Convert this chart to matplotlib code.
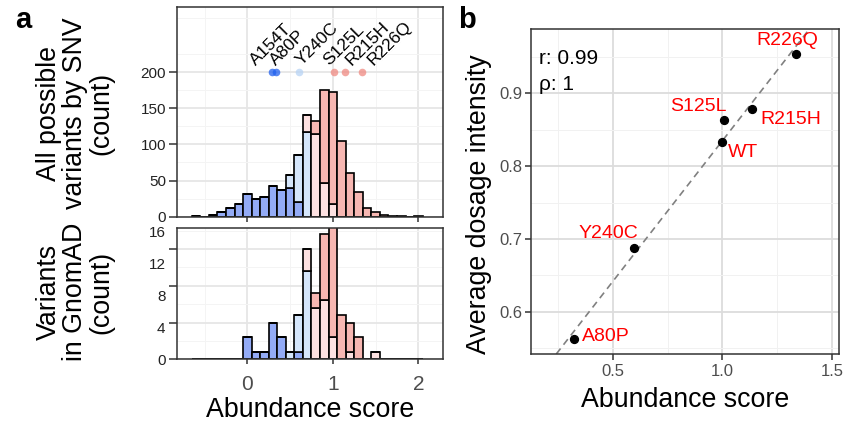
import matplotlib
matplotlib.use('Agg')
import matplotlib.pyplot as plt
import numpy as np

plt.rcParams['font.family'] = ['Liberation Sans', 'DejaVu Sans']
plt.rcParams['lines.scale_dashes'] = False

# histogram bins: width 0.1, centred on multiples of 0.1 (-0.6 .. 2.0)
bin_width = 0.1
bin_centers = np.round(np.arange(-6, 21) * bin_width, 2)

# all possible SNVs, count per bin, split by abundance class
snv_low = [1, 0, 3, 7, 12, 17, 32, 24, 27, 42, 37, 40, 20, 0, 0, 0, 0, 0, 0, 0, 0, 0, 0, 0, 0, 0, 0]
snv_mid = [0, 0, 0, 0, 0, 0, 0, 0, 0, 0, 0, 18, 66, 117, 0, 0, 0, 0, 0, 0, 0, 0, 0, 0, 0, 0, 0]
snv_wt = [0, 0, 0, 0, 0, 0, 0, 0, 0, 0, 0, 0, 0, 23, 114, 47, 17, 0, 0, 0, 0, 0, 0, 0, 0, 0, 0]
snv_high = [0, 0, 0, 0, 0, 0, 0, 0, 0, 0, 0, 0, 0, 0, 19, 128, 155, 105, 60, 34, 12, 7, 3, 1, 1, 0, 1]

# variants seen in gnomAD
gnomad_low = [0, 0, 0, 0, 0, 0, 3, 1, 1, 5, 3, 0, 1, 0, 0, 0, 0, 0, 0, 0, 0, 0, 0, 0, 0, 0, 0]
gnomad_mid = [0, 0, 0, 0, 0, 0, 0, 0, 0, 0, 0, 1, 5, 12, 0, 0, 0, 0, 0, 0, 0, 0, 0, 0, 0, 0, 0]
gnomad_wt = [0, 0, 0, 0, 0, 0, 0, 0, 0, 0, 0, 0, 0, 3, 7, 8, 3, 0, 1, 0, 0, 1, 0, 0, 0, 0, 0]
gnomad_high = [0, 0, 0, 0, 0, 0, 0, 0, 0, 0, 0, 0, 0, 0, 2, 9, 15, 6, 4, 3, 0, 0, 0, 0, 0, 0, 0]

# highlighted variants on top panel
var_names = ['A154T', 'A80P', 'Y240C', 'S125L', 'R215H', 'R226Q']
var_score = [0.29, 0.33, 0.60, 1.01, 1.14, 1.34]
var_class = ['low', 'low', 'mid', 'high', 'high', 'high']
var_label_dx = [-0.19, 0.0, 0.04, -0.05, 0.08, 0.14]

# panel b
dose_names = ['R226Q', 'S125L', 'R215H', 'WT', 'Y240C', 'A80P']
dose_score = [1.336, 1.006, 1.135, 1.0, 0.599, 0.325]
dose_int = [0.954, 0.863, 0.878, 0.833, 0.688, 0.562]
dose_offsets = [(-6.5, 9.8), (-18, 10), (28, -7), (15, -7.4), (-19, 9.9), (22.5, 1.9)]

class_colors = {'low': '#93abf6', 'mid': '#d5e6fb', 'wt': '#fde1e1', 'high': '#f7b7b2'}
dot_colors = {'low': '#2060ee', 'mid': '#b7d3f5', 'high': '#f08a82'}
frame = '#333333'
title_size = 19.3


def style(ax, major='#e6e6e6', minor='#f4f4f4'):
    for s in ax.spines.values():
        s.set_color(frame)
        s.set_linewidth(1.1)
    ax.set_axisbelow(True)
    ax.grid(which='major', color=major, lw=1.3)
    ax.grid(which='minor', color=minor, lw=0.7)
    ax.tick_params(which='major', width=1.1, color=frame)
    ax.tick_params(which='minor', length=0)


def stacked_hist(ax, layers):
    bottom = np.zeros(len(bin_centers))
    for vals, key in zip(layers, ['low', 'mid', 'wt', 'high']):
        vals = np.array(vals, dtype=float)
        ax.bar(bin_centers, vals, width=bin_width, bottom=bottom, color=class_colors[key],
               edgecolor='black', linewidth=1.2, zorder=2)
        bottom += vals


fig = plt.figure(figsize=(8.44, 4.23), dpi=100)
ax1 = fig.add_axes([0.2101, 0.4877, 0.3145, 0.4957])
ax2 = fig.add_axes([0.2101, 0.1506, 0.3145, 0.3111])
ax3 = fig.add_axes([0.6288, 0.1631, 0.3656, 0.7676])

# top histogram
style(ax1)
stacked_hist(ax1, [snv_low, snv_mid, snv_wt, snv_high])
for name, x, c, dx in zip(var_names, var_score, var_class, var_label_dx):
    ax1.scatter(x, 200, s=30, color=dot_colors[c], alpha=0.75, lw=0, zorder=3)
    ax1.text(x + dx, 209, name, rotation=45, rotation_mode='anchor', ha='left', va='baseline',
             fontsize=12.5, zorder=4)
ax1.set_xlim(-0.819, 2.285)
ax1.set_ylim(0, 290)
ax1.set_xticks([0, 1, 2])
ax1.set_xticks([-0.5, 0.5, 1.5], minor=True)
ax1.set_yticks([0, 50, 100, 150, 200])
ax1.set_yticks(np.arange(25, 290, 50), minor=True)
ax1.tick_params(axis='x', labelbottom=False, length=3.5)
ax1.tick_params(axis='y', length=6, pad=2, labelsize=11, labelcolor='#222222')

# bottom histogram
style(ax2)
stacked_hist(ax2, [gnomad_low, gnomad_mid, gnomad_wt, gnomad_high])
ax2.set_xlim(-0.819, 2.285)
ax2.set_ylim(0, 17.9)
ax2.set_xticks([0, 1, 2])
ax2.set_xticks([-0.5, 0.5, 1.5], minor=True)
ax2.set_yticks([0, 5, 10, 15])
ax2.set_yticks([2.5, 7.5, 12.5, 17.5], minor=True)
ax2.tick_params(axis='y', length=6, labelleft=False)
ax2.tick_params(axis='x', length=3.5, pad=8, labelsize=15, labelcolor='#4d4d4d')
sec = ax2.secondary_yaxis('left', functions=(lambda y: y / 1.09, lambda y: y * 1.09))
sec.set_yticks([0, 4, 8, 12, 16])
sec.tick_params(length=0, pad=8.5, labelsize=11, labelcolor='#222222')
sec.spines['left'].set_visible(False)

fig.text(75 / 844, 1 - 113 / 423, 'All possible\nvariants by SNV\n(count)', rotation=90,
         ha='center', va='center', multialignment='center', fontsize=title_size, linespacing=1.0)
fig.text(75 / 844, 1 - 292 / 423, 'Variants\nin GnomAD\n(count)', rotation=90,
         ha='center', va='center', multialignment='center', fontsize=title_size, linespacing=1.0)
fig.text(310 / 844, 1 - 416.7 / 423, 'Abundance score', ha='center', va='baseline',
         fontsize=title_size)

# panel b scatter
style(ax3, major='#dcdcdc', minor='#f1f1f1')
slope, icpt = np.polyfit(dose_score, dose_int, 1)
ax3.axline((0, icpt), slope=slope, color='#808080', ls='--', dashes=(5, 3.5), lw=1.2, zorder=2)
ax3.scatter(dose_score, dose_int, s=32, color='black', zorder=3)
for name, x, y, off in zip(dose_names, dose_score, dose_int, dose_offsets):
    ax3.annotate(name, (x, y), xytext=off, textcoords='offset points', ha='center', va='center',
                 color='red', fontsize=14, zorder=4)
r = np.corrcoef(dose_score, dose_int)[0, 1]
rx = np.argsort(np.argsort(dose_score))
ry = np.argsort(np.argsort(dose_int))
rho = np.corrcoef(rx, ry)[0, 1]
ax3.text(0.027, 0.94, f'r: {r:.2f}\nρ: {rho:.2g}', transform=ax3.transAxes, ha='left', va='top',
         fontsize=15, linespacing=1.45)
ax3.set_xlim(0.126, 1.533)
ax3.set_ylim(0.542, 0.988)
ax3.set_xticks([0.5, 1.0, 1.5])
ax3.set_xticklabels(['0.5', '1.0', '1.5'])
ax3.set_xticks([0.25, 0.75, 1.25], minor=True)
ax3.set_yticks([0.6, 0.7, 0.8, 0.9])
ax3.set_yticks([0.55, 0.65, 0.75, 0.85, 0.95], minor=True)
ax3.tick_params(axis='both', length=4, labelsize=12, labelcolor='#4d4d4d')
ax3.tick_params(axis='x', pad=3)
ax3.tick_params(axis='y', pad=2)
fig.text(685 / 844, 1 - 406.7 / 423, 'Abundance score', ha='center', va='baseline',
         fontsize=title_size)
fig.text(479 / 844, 1 - 204 / 423, 'Average dosage intensity', rotation=90, ha='center',
         va='center', fontsize=title_size)

fig.text(15 / 844, 1 - 28 / 423, 'a', fontsize=21, fontweight='bold', va='baseline')
fig.text(458 / 844, 1 - 28 / 423, 'b', fontsize=21, fontweight='bold', va='baseline')

fig.savefig('out.png', dpi=100)
